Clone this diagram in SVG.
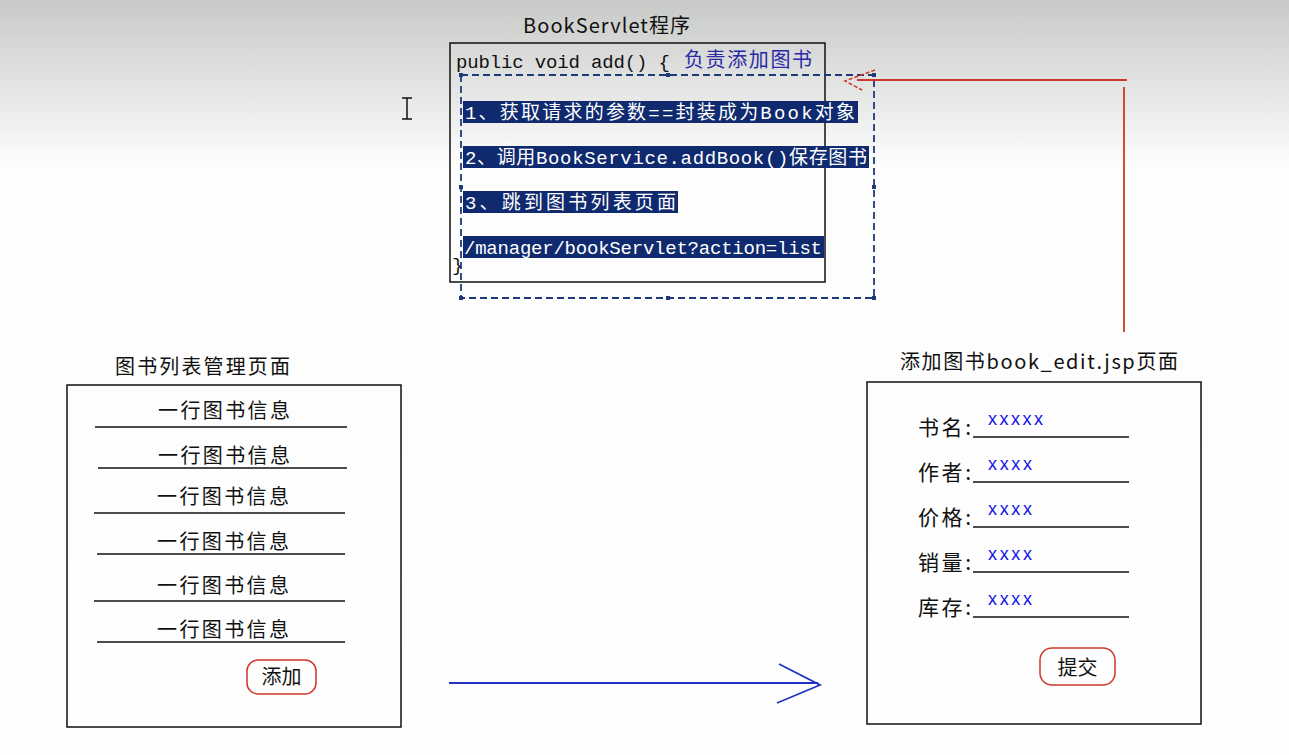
<svg xmlns="http://www.w3.org/2000/svg" width="1289" height="755" viewBox="0 0 1289 755">
<defs>
<linearGradient id="bg" x1="0" y1="0" x2="0" y2="755" gradientUnits="userSpaceOnUse">
<stop offset="0" stop-color="#c8cac8"/>
<stop offset="0.22" stop-color="#fcfdfc"/>
<stop offset="1" stop-color="#fdfefd"/>
</linearGradient>
<style>
.cjk{font-family:"Noto Sans CJK SC","Liberation Sans",sans-serif;font-size:20px;fill:#111}
.code{font-family:"Liberation Mono","Noto Sans CJK SC",monospace;font-size:19px;fill:#111}
.hl{fill:#0f2a6e}
.hlt{font-family:"Liberation Mono","Noto Sans CJK SC",monospace;font-size:19px;fill:#ffffff}
.box{fill:none;stroke:#111;stroke-width:1.5}
.rule{stroke:#111;stroke-width:1.5}
.btn{fill:none;stroke:#d0372a;stroke-width:1.5}
.xx{font-family:"Liberation Sans","Noto Sans CJK SC",sans-serif;font-size:18px;fill:#1414e6}
.sel{fill:none;stroke:#1f3a7a;stroke-width:1.8;stroke-dasharray:7 4}
.handle{fill:#1f3a7a}
.lbl{font-family:"Noto Sans CJK SC","Liberation Sans",sans-serif;font-size:21px;fill:#111}
</style>
</defs>
<rect x="0" y="0" width="1289" height="755" fill="url(#bg)"/>

<!-- cursor -->
<g id="cursor" stroke="#111" stroke-width="1.5" fill="none">
<line x1="407" y1="98" x2="407" y2="119"/>
<line x1="402" y1="98" x2="412" y2="98"/>
<line x1="402" y1="119" x2="412" y2="119"/>
</g>

<!-- BookServlet node -->
<g id="servlet">
<text class="cjk" x="523" y="33" textLength="167" lengthAdjust="spacing">BookServlet程序</text>
<rect class="box" x="450" y="43" width="375" height="239"/>
<text class="code" x="456" y="68" textLength="214" lengthAdjust="spacing">public void add() {</text>
<text class="cjk" x="684" y="67" style="fill:#2a2aa8" textLength="128" lengthAdjust="spacing">负责添加图书</text>
<rect class="hl" x="463" y="101" width="395" height="22"/>
<text class="hlt" x="465" y="119" textLength="390" lengthAdjust="spacing">1、获取请求的参数==封装成为Book对象</text>
<rect class="hl" x="463" y="146" width="406" height="22"/>
<text class="hlt" x="465" y="164" textLength="402" lengthAdjust="spacing">2、调用BookService.addBook()保存图书</text>
<rect class="hl" x="463" y="191" width="215" height="22"/>
<text class="hlt" x="465" y="209" textLength="211" lengthAdjust="spacing">3、跳到图书列表页面</text>
<rect class="hl" x="463" y="236" width="361" height="22"/>
<text class="hlt" x="464" y="254" textLength="358" lengthAdjust="spacing">/manager/bookServlet?action=list</text>
<text class="code" x="452" y="271">}</text>
<rect class="sel" x="461" y="75" width="413" height="223"/>
<rect class="handle" x="459" y="73" width="4" height="4"/>
<rect class="handle" x="666" y="73" width="4" height="4"/>
<rect class="handle" x="872" y="73" width="4" height="4"/>
<rect class="handle" x="459" y="185" width="4" height="4"/>
<rect class="handle" x="872" y="185" width="4" height="4"/>
<rect class="handle" x="459" y="296" width="4" height="4"/>
<rect class="handle" x="666" y="296" width="4" height="4"/>
<rect class="handle" x="872" y="296" width="4" height="4"/>
</g>

<!-- list page node -->
<g id="listPage">
<text class="cjk" x="115" y="374" textLength="175" lengthAdjust="spacing">图书列表管理页面</text>
<rect class="box" x="67" y="385" width="334" height="342"/>
<text class="cjk" x="158" y="418" textLength="132" lengthAdjust="spacing">一行图书信息</text>
<line class="rule" x1="95" y1="427" x2="347" y2="427"/>
<text class="cjk" x="158" y="463" textLength="132" lengthAdjust="spacing">一行图书信息</text>
<line class="rule" x1="98" y1="468" x2="347" y2="468"/>
<text class="cjk" x="157" y="504" textLength="132" lengthAdjust="spacing">一行图书信息</text>
<line class="rule" x1="94" y1="513" x2="345" y2="513"/>
<text class="cjk" x="157" y="549" textLength="132" lengthAdjust="spacing">一行图书信息</text>
<line class="rule" x1="97" y1="554" x2="345" y2="554"/>
<text class="cjk" x="157" y="593" textLength="132" lengthAdjust="spacing">一行图书信息</text>
<line class="rule" x1="94" y1="601" x2="345" y2="601"/>
<text class="cjk" x="157" y="637" textLength="132" lengthAdjust="spacing">一行图书信息</text>
<line class="rule" x1="97" y1="642" x2="345" y2="642"/>
<rect class="btn" x="247" y="660" width="69" height="34" rx="11"/>
<text class="cjk" x="281.5" y="684" text-anchor="middle" font-size="18">添加</text>
</g>

<!-- edit page node -->
<g id="editPage">
<text class="cjk" x="900" y="369" textLength="278" lengthAdjust="spacing">添加图书book_edit.jsp页面</text>
<rect class="box" x="867" y="382" width="334" height="342"/>
<text class="lbl" x="918" y="435" textLength="53" lengthAdjust="spacing">书名:</text>
<line class="rule" x1="973" y1="437" x2="1129" y2="437"/>
<text class="xx" x="988" y="425" textLength="55" lengthAdjust="spacing">xxxxx</text>
<text class="lbl" x="918" y="480" textLength="53" lengthAdjust="spacing">作者:</text>
<line class="rule" x1="973" y1="482" x2="1129" y2="482"/>
<text class="xx" x="988" y="470" textLength="44" lengthAdjust="spacing">xxxx</text>
<text class="lbl" x="918" y="525" textLength="53" lengthAdjust="spacing">价格:</text>
<line class="rule" x1="973" y1="527" x2="1129" y2="527"/>
<text class="xx" x="988" y="515" textLength="44" lengthAdjust="spacing">xxxx</text>
<text class="lbl" x="918" y="570" textLength="53" lengthAdjust="spacing">销量:</text>
<line class="rule" x1="973" y1="572" x2="1129" y2="572"/>
<text class="xx" x="988" y="560" textLength="44" lengthAdjust="spacing">xxxx</text>
<text class="lbl" x="918" y="615" textLength="53" lengthAdjust="spacing">库存:</text>
<line class="rule" x1="973" y1="617" x2="1129" y2="617"/>
<text class="xx" x="988" y="605" textLength="44" lengthAdjust="spacing">xxxx</text>
<rect class="btn" x="1040" y="648" width="75" height="37" rx="12"/>
<text class="cjk" x="1077.5" y="675" text-anchor="middle">提交</text>
</g>

<!-- connectors -->
<g id="connectors" fill="none">
<line x1="449" y1="683" x2="818" y2="683" stroke="#2233c4" stroke-width="2"/>
<polyline points="779,664 820,685 777,703" stroke="#2233c4" stroke-width="1.8"/>
<line x1="1124" y1="87" x2="1124" y2="332" stroke="#d0372a" stroke-width="1.8"/>
<line x1="1127" y1="80" x2="857" y2="80" stroke="#d0372a" stroke-width="1.8"/>
<polyline points="875,70 845,81 862,90" stroke="#d0372a" stroke-width="1.5" stroke-dasharray="4 2"/>
</g>
</svg>
